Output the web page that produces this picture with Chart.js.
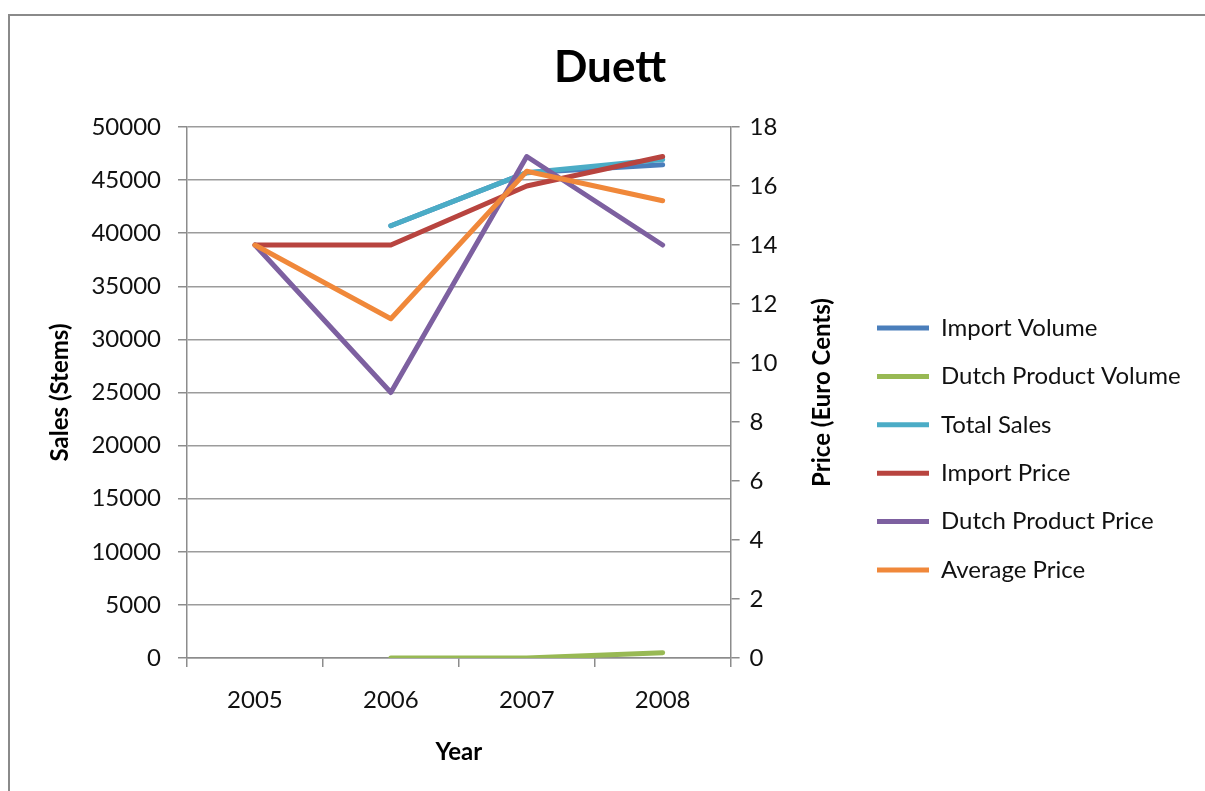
<!DOCTYPE html>
<html>
<head>
<meta charset="utf-8">
<title>Duett</title>
<script src="https://cdn.jsdelivr.net/npm/chart.js@4"></script>
<style>
  html, body { margin: 0; background: #fff; overflow: hidden; }
  #frame { position: absolute; left: 8px; top: 14px; width: 1260px; height: 830px; border: 2px solid #8a8a8a; }
  #wrap { position: absolute; left: 0; top: 0; width: 1240px; height: 775px; }
</style>
</head>
<body>
<div id="frame">
  <div id="wrap"><canvas id="salesChart"></canvas></div>
</div>
<script>
// values
const years = ['2005', '2006', '2007', '2008'];
const seriesNames = ['Import Volume', 'Dutch Product Volume', 'Total Sales', 'Import Price', 'Dutch Product Price', 'Average Price'];
const importVolume = [null, 40700, 45700, 46450];
const dutchVolume = [null, 0, 0, 500];
const totalSales = [null, 40700, 45700, 46950];
const importPrice = [14, 14, 16, 17];
const dutchPrice = [14, 9, 17, 14];
const averagePrice = [14, 11.5, 16.5, 15.5];

const FONT = 'Lato, "Open Sans", sans-serif';
const GRID = '#9c9c9c';
const AXIS = '#8c8c8c';
const CANVAS_W = 1240;

// work out the legend width up front so the legend items and the title land where Excel put them
const mctx = document.createElement('canvas').getContext('2d');
mctx.font = '24px ' + FONT;
const legendTextW = Math.max(...seriesNames.map(t => mctx.measureText(t).width));
const rightEdge = 941 + legendTextW;
const padLeft = Math.max(0, 1200 - rightEdge);

function line(label, data, color, axis, order) {
  return {
    label: label,
    data: data,
    yAxisID: axis,
    borderColor: color,
    backgroundColor: color,
    borderWidth: 5,
    borderCapStyle: 'round',
    borderJoinStyle: 'round',
    pointRadius: 0,
    pointHoverRadius: 0,
    tension: 0,
    order: order
  };
}

// right axis title reads bottom-to-top, like the left one
const rightTitle = {
  id: 'rightTitle',
  afterDraw(chart) {
    const s = chart.scales.y1;
    const ctx = chart.ctx;
    ctx.save();
    ctx.translate(s.left + 92, (s.top + s.bottom) / 2);
    ctx.rotate(-Math.PI / 2);
    ctx.font = 'bold 24px ' + FONT;
    ctx.fillStyle = '#000';
    ctx.textAlign = 'center';
    ctx.textBaseline = 'middle';
    ctx.fillText('Price (Euro Cents)', 0, 0);
    ctx.restore();
  }
};

const ctx = document.getElementById('salesChart').getContext('2d');
const chart = new Chart(ctx, {
  type: 'line',
  data: {
    labels: years,
    datasets: [
      line(seriesNames[0], importVolume, '#4a7ebb', 'y', 6),
      line(seriesNames[1], dutchVolume, '#98b954', 'y', 5),
      line(seriesNames[2], totalSales, '#4bacc6', 'y', 4),
      line(seriesNames[3], importPrice, '#b8443f', 'y1', 3),
      line(seriesNames[4], dutchPrice, '#7d60a0', 'y1', 2),
      line(seriesNames[5], averagePrice, '#f0883a', 'y1', 1)
    ]
  },
  options: {
    responsive: true,
    maintainAspectRatio: false,
    animation: false,
    layout: { padding: { top: 0, left: padLeft, right: CANVAS_W - rightEdge, bottom: 0 } },
    plugins: {
      tooltip: { enabled: false },
      title: {
        display: true,
        text: 'Duett',
        color: '#000',
        font: { family: FONT, size: 44, weight: 'bold' },
        padding: { top: 25.6, bottom: 32.6 }
      },
      legend: {
        position: 'right',
        align: 'center',
        maxWidth: 600,
        title: { display: true, text: ' ', font: { size: 10 }, padding: { top: 79, bottom: 0 } },
        labels: {
          color: '#111',
          font: { family: FONT, size: 24 },
          usePointStyle: true,
          pointStyle: 'line',
          pointStyleWidth: 52,
          padding: 24.4,
          sort: (a, b) => a.datasetIndex - b.datasetIndex
        }
      }
    },
    scales: {
      x: {
        offset: true,
        grid: { offset: true, drawOnChartArea: false, color: AXIS, tickLength: 9, tickColor: AXIS, lineWidth: 1.5 },
        border: { color: AXIS, width: 1.5 },
        ticks: { color: '#111', font: { family: FONT, size: 24 }, padding: 19, maxRotation: 0 },
        title: { display: true, text: 'Year', color: '#000', font: { family: FONT, size: 24, weight: 'bold' }, padding: { top: 0, bottom: 24.6 } },
        afterFit(s) { s.height = 133; }
      },
      y: {
        position: 'left',
        min: 0,
        max: 50000,
        ticks: { stepSize: 5000, color: '#111', font: { family: FONT, size: 24 }, padding: 17, callback: v => String(v) },
        grid: { color: GRID, lineWidth: 1.5, tickLength: 9, tickColor: AXIS },
        border: { color: AXIS, width: 1.5 },
        title: { display: true, text: 'Sales (Stems)', color: '#000', font: { family: FONT, size: 24, weight: 'bold' }, padding: { top: 35.6 - padLeft, bottom: 0 } },
        afterFit(s) { s.width = 177 - padLeft; }
      },
      y1: {
        position: 'right',
        min: 0,
        max: 18,
        ticks: { stepSize: 2, color: '#111', font: { family: FONT, size: 24 }, padding: 10 },
        grid: { drawOnChartArea: false, tickLength: 9, tickColor: AXIS, lineWidth: 1.5 },
        border: { color: AXIS, width: 1.5 },
        afterFit(s) { s.width = 122; }
      }
    }
  },
  plugins: [rightTitle]
});
</script>
</body>
</html>
